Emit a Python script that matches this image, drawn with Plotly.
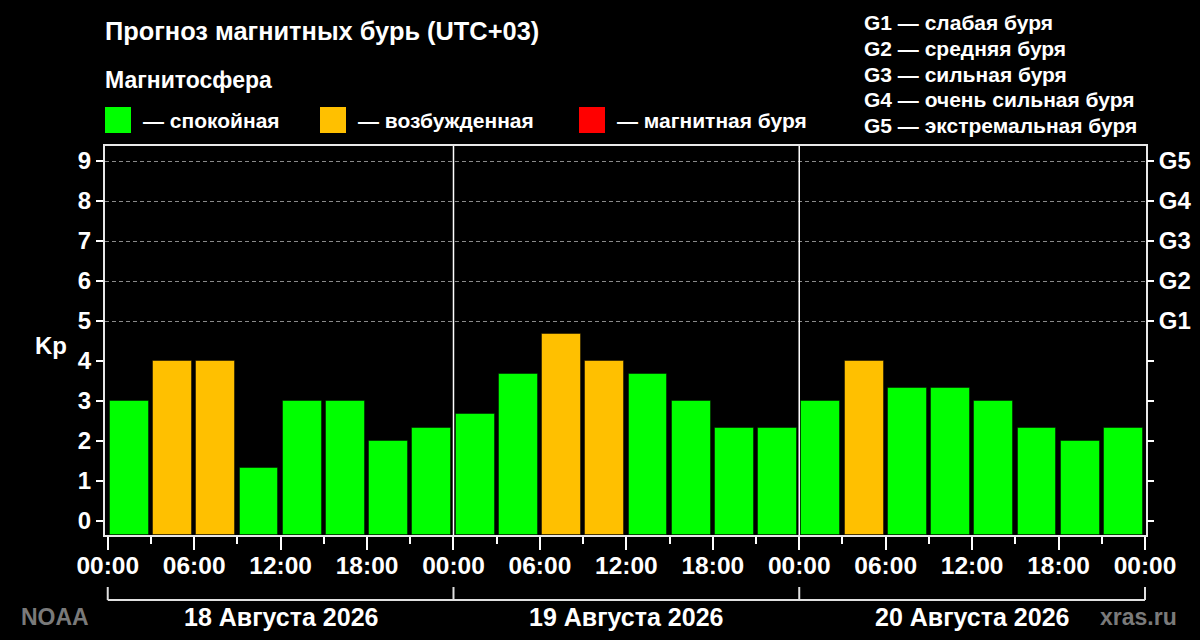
import plotly.graph_objects as go

# Kp forecast, 8 three-hour intervals per day
DAYS = ["18 Августа 2026", "19 Августа 2026", "20 Августа 2026"]
KP_DAY1 = [3, 4, 4, 1.33, 3, 3, 2, 2.33]
KP_DAY2 = [2.67, 3.67, 4.67, 4, 3.67, 3, 2.33, 2.33]
KP_DAY3 = [3, 4, 3.33, 3.33, 3, 2.33, 2, 2.33]
TIME_LABELS = ["00:00", "06:00", "12:00", "18:00"]
KP_TICKS = [0, 1, 2, 3, 4, 5, 6, 7, 8, 9]
G_LEVELS = ["G1", "G2", "G3", "G4", "G5"]
G_KP = [5, 6, 7, 8, 9]
G_NAMES = ["слабая буря", "средняя буря", "сильная буря",
           "очень сильная буря", "экстремальная буря"]
STATES = ["спокойная", "возбужденная", "магнитная буря"]

GREEN = "#00ff00"
ORANGE = "#ffc000"
RED = "#ff0000"
FONT = "Liberation Sans, Arial, sans-serif"

W, H = 1200, 640
PL, PR, PT, PB = 105, 1146, 146, 535   # plot box in page pixels
PW, PH = PR - PL, PB - PT
Y_MIN, Y_MAX = -0.35, 9.375


def px(xp, yp):
    # page pixel position -> paper coords
    return (xp - PL) / PW, 1 - (yp - PT) / PH


def kp_color(v):
    if v >= 5:
        return RED
    if v >= 4:
        return ORANGE
    return GREEN


def bold(size, color="white"):
    return dict(family=FONT, size=size, color=color, weight="bold")


kp = KP_DAY1 + KP_DAY2 + KP_DAY3
hours = [3 * i + 1.5 for i in range(len(kp))]
total_h = 24 * len(DAYS)

bars = go.Bar(
    x=hours,
    y=[v - Y_MIN for v in kp],
    base=Y_MIN,
    width=2.7,
    marker=dict(color=[kp_color(v) for v in kp],
                line=dict(color="rgba(0,0,0,0.45)", width=1)),
    hoverinfo="skip",
    showlegend=False,
)

fig = go.Figure(data=[bars])

fig.update_layout(
    width=W, height=H,
    margin=dict(l=PL, r=W - PR, t=PT, b=H - PB, autoexpand=False),
    paper_bgcolor="black", plot_bgcolor="black",
    bargap=0,
    xaxis=dict(
        range=[-0.19, total_h + 0.07],
        tickmode="array",
        tickvals=list(range(0, total_h + 1, 6)),
        ticktext=TIME_LABELS * len(DAYS) + ["00:00"],
        ticks="outside", ticklen=13, tickwidth=2, tickcolor="white",
        ticklabelstandoff=-5,
        minor=dict(dtick=3, tick0=0, ticks="outside", ticklen=7,
                   tickwidth=2, tickcolor="white", showgrid=False),
        showgrid=False, zeroline=False,
        showline=True, linecolor="#e8e8e8", linewidth=2, mirror=True,
        tickfont=bold(24.5),
    ),
    yaxis=dict(
        range=[Y_MIN, Y_MAX],
        tickmode="array", tickvals=KP_TICKS,
        ticks="outside", ticklen=7, tickwidth=2, tickcolor="white",
        showgrid=False, zeroline=False,
        showline=True, linecolor="#e8e8e8", linewidth=2, mirror=True,
        tickfont=bold(24),
    ),
    yaxis2=dict(
        overlaying="y", side="right", anchor="x",
        range=[Y_MIN, Y_MAX],
        tickmode="array", tickvals=KP_TICKS,
        ticktext=[""] * (len(KP_TICKS) - len(G_LEVELS)) + G_LEVELS,
        ticks="outside", ticklen=7, tickwidth=2, tickcolor="white",
        showgrid=False, zeroline=False, showline=False,
        tickfont=bold(24),
    ),
    yaxis3=dict(
        overlaying="y", side="left", anchor="x",
        range=[Y_MIN, Y_MAX],
        tickmode="array", tickvals=G_KP,
        showticklabels=False, ticks="",
        showgrid=True, gridcolor="#8a8a8a", gridwidth=1, griddash="4px,3px",
        zeroline=False, showline=False,
    ),
)

# invisible traces so the extra axes get drawn
for ax in ["y2", "y3"]:
    fig.add_trace(go.Scatter(x=[hours[0]], y=[kp[0]], yaxis=ax, mode="markers",
                             marker=dict(opacity=0), hoverinfo="skip",
                             showlegend=False))

shapes = []
# day separators inside the plot
for d in range(1, len(DAYS)):
    shapes.append(dict(type="line", xref="x", yref="paper", x0=24 * d, x1=24 * d,
                       y0=0, y1=1, line=dict(color="white", width=1.5), layer="above"))

# bracket under the time labels
_, yb = px(0, 600)
_, yt = px(0, 587)
shapes.append(dict(type="line", xref="x", yref="paper", x0=0, x1=total_h,
                   y0=yb, y1=yb, line=dict(color="#e0e0e0", width=2)))
for d in range(len(DAYS) + 1):
    shapes.append(dict(type="line", xref="x", yref="paper", x0=24 * d, x1=24 * d,
                       y0=yb, y1=yt, line=dict(color="#e0e0e0", width=2)))

# legend squares
sq_x = [105, 320, 579]
sq_col = [GREEN, ORANGE, RED]
for xs, c in zip(sq_x, sq_col):
    x0, y0 = px(xs, 133)
    x1, y1 = px(xs + 26, 107)
    shapes.append(dict(type="rect", xref="paper", yref="paper",
                       x0=x0, x1=x1, y0=y0, y1=y1,
                       fillcolor=c, line=dict(width=0)))

fig.update_layout(shapes=shapes)

ann = []


def note(text, xp, yp, font, xanchor="left"):
    x, y = px(xp, yp)
    ann.append(dict(text=text, xref="paper", yref="paper", x=x, y=y,
                    xanchor=xanchor, yanchor="middle", showarrow=False,
                    font=font, align="left"))


note("Прогноз магнитных бурь (UTC+03)", 103, 31, bold(25.4))
note("Магнитосфера", 103, 80, bold(23))
for xs, s in zip(sq_x, STATES):
    note("— " + s, xs + 36, 120, bold(21))
for i, (g, n) in enumerate(zip(G_LEVELS, G_NAMES)):
    note(g + " — " + n, 862, 23 + 25.6 * i, bold(21))
note("Kp", 33, 345, bold(24))

gray = bold(23, "#7a7a7a")
note("NOAA", 19, 617, gray)
note("xras.ru", 1179, 617, gray, xanchor="right")

_, yday = px(0, 617)
for d, day in enumerate(DAYS):
    ann.append(dict(text=day, xref="x", yref="paper", x=24 * d + 12, y=yday,
                    xanchor="center", yanchor="middle", showarrow=False,
                    font=bold(25)))

fig.update_layout(annotations=ann)

# no white page margin around the chart, no modebar
fig.write_html("out.html",
               config={"displayModeBar": False},
               post_script="document.body.style.margin='0';"
                           "document.body.style.background='black';")
